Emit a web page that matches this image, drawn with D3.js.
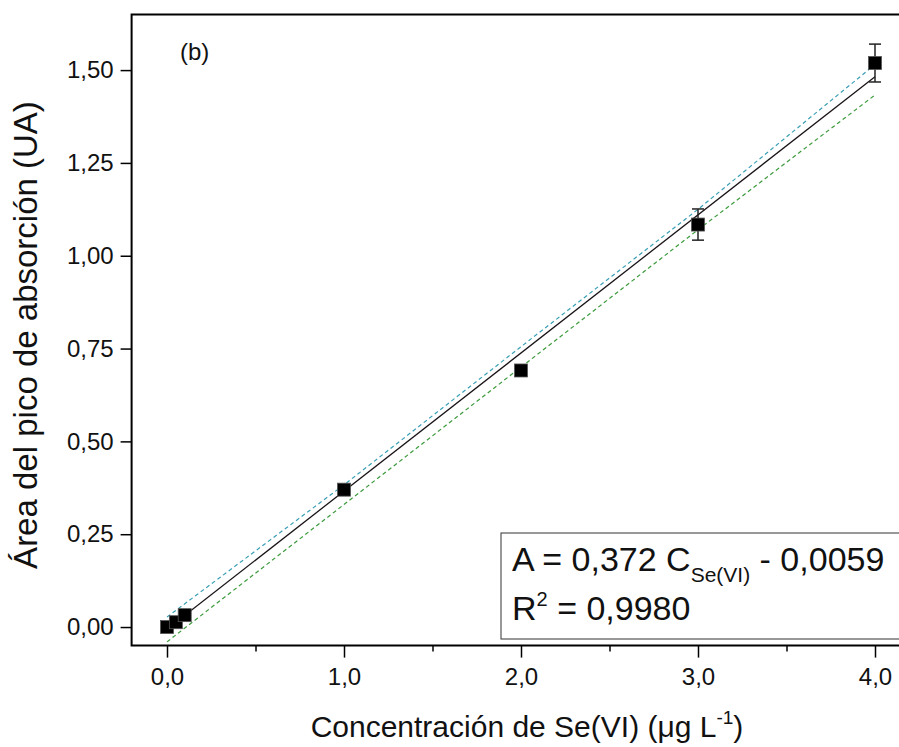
<!DOCTYPE html>
<html>
<head>
<meta charset="utf-8">
<script src="https://cdn.jsdelivr.net/npm/d3@7/dist/d3.min.js"></script>
<style>
  html, body { margin: 0; padding: 0; background: #fff; }
  svg { display: block; font-family: "Liberation Sans", Arial, sans-serif; }
</style>
</head>
<body>
<svg id="chart" width="899" height="747"></svg>
<script>
// ---- Data ----
const concentrations = [0.0, 0.05, 0.1, 1.0, 2.0, 3.0, 4.0];
const absorbance     = [0.0, 0.013, 0.032, 0.370, 0.691, 1.084, 1.519];
const errors         = [0.0, 0.0, 0.0, 0.005, 0.015, 0.042, 0.051];

const fitSlope = 0.372;
const fitIntercept = -0.0059;
const fitRange = [0, 4];

const bandX     = [0, 1, 2, 3, 4];
const bandUpper = [0.027, 0.383, 0.755, 1.125, 1.515];
const bandLower = [-0.040, 0.330, 0.700, 1.070, 1.433];

const xTickValues = [0, 1, 2, 3, 4];
const xTickLabels = ["0,0", "1,0", "2,0", "3,0", "4,0"];
const xMinorTicks = [0.5, 1.5, 2.5, 3.5];
const yTickValues = [0, 0.25, 0.5, 0.75, 1.0, 1.25, 1.5];
const yTickLabels = ["0,00", "0,25", "0,50", "0,75", "1,00", "1,25", "1,50"];

const panelLabel = "(b)";
const xTitle = "Concentración de Se(VI) (μg L";
const yTitle = "Área del pico de absorción (UA)";

// ---- Layout ----
const svg = d3.select("#chart");
const x = d3.scaleLinear().domain([-0.2, 4.2]).range([131.6, 910.4]);
const y = d3.scaleLinear().domain([-0.05, 1.65]).range([645.6, 14.4]);

const plotLeft = x(-0.2), plotRight = x(4.2), plotTop = y(1.65), plotBottom = y(-0.05);

// Confidence bands
const bandLine = (vals) => d3.line().x((d, i) => x(bandX[i])).y(d => y(d))(vals);
svg.append("path").attr("d", bandLine(bandUpper))
  .attr("fill", "none").attr("stroke", "#3a9fb5").attr("stroke-width", 1.2)
  .attr("stroke-dasharray", "4,3");
svg.append("path").attr("d", bandLine(bandLower))
  .attr("fill", "none").attr("stroke", "#3c9a3c").attr("stroke-width", 1.2)
  .attr("stroke-dasharray", "4,3");

// Fit line
svg.append("line")
  .attr("x1", x(fitRange[0])).attr("y1", y(fitSlope * fitRange[0] + fitIntercept))
  .attr("x2", x(fitRange[1])).attr("y2", y(fitSlope * fitRange[1] + fitIntercept))
  .attr("stroke", "#1a1418").attr("stroke-width", 1.3);

// Error bars
const eb = svg.append("g").attr("stroke", "#222").attr("stroke-width", 1.5);
concentrations.forEach((c, i) => {
  if (errors[i] <= 0) return;
  const cx = x(c), y1 = y(absorbance[i] + errors[i]), y2 = y(absorbance[i] - errors[i]);
  eb.append("line").attr("x1", cx).attr("x2", cx).attr("y1", y1).attr("y2", y2);
  eb.append("line").attr("x1", cx - 6).attr("x2", cx + 6).attr("y1", y1).attr("y2", y1);
  eb.append("line").attr("x1", cx - 6).attr("x2", cx + 6).attr("y1", y2).attr("y2", y2);
});

// Points
const sq = 13;
svg.append("g").selectAll("rect").data(concentrations).join("rect")
  .attr("x", d => x(d) - sq / 2)
  .attr("y", (d, i) => y(absorbance[i]) - sq / 2)
  .attr("width", sq).attr("height", sq)
  .attr("fill", "#000").attr("stroke", "#555").attr("stroke-width", 0.8);

// Frame (left, top, bottom) – right side is cropped
const frame = svg.append("g").attr("stroke", "#000").attr("stroke-width", 2).attr("fill", "none");
frame.append("path").attr("d", `M${plotRight},${plotTop} H${plotLeft} V${plotBottom} H${plotRight}`);

// Axes
const xAxis = d3.axisBottom(x).tickValues(xTickValues)
  .tickFormat((d, i) => xTickLabels[i]).tickSize(12).tickPadding(10);
const gx = svg.append("g").attr("transform", `translate(0,${plotBottom})`).call(xAxis);
gx.select(".domain").remove();
gx.selectAll(".tick line").attr("stroke", "#000").attr("stroke-width", 1.5);
gx.selectAll(".tick text").attr("font-size", 24).attr("fill", "#111")
  .attr("font-family", "Liberation Sans, Arial, sans-serif");

const xMinor = d3.axisBottom(x).tickValues(xMinorTicks).tickSize(6).tickFormat("");
const gxm = svg.append("g").attr("transform", `translate(0,${plotBottom})`).call(xMinor);
gxm.select(".domain").remove();
gxm.selectAll(".tick line").attr("stroke", "#000").attr("stroke-width", 1.5);

const yAxis = d3.axisLeft(y).tickValues(yTickValues)
  .tickFormat((d, i) => yTickLabels[i]).tickSize(11).tickPadding(7);
const gy = svg.append("g").attr("transform", `translate(${plotLeft},0)`).call(yAxis);
gy.select(".domain").remove();
gy.selectAll(".tick line").attr("stroke", "#000").attr("stroke-width", 1.5);
gy.selectAll(".tick text").attr("font-size", 24).attr("fill", "#111")
  .attr("font-family", "Liberation Sans, Arial, sans-serif");

// Panel label
svg.append("text").attr("x", 180).attr("y", 60).attr("font-size", 24).attr("fill", "#111")
  .text(panelLabel);

// Axis titles
const xt = svg.append("text").attr("x", 527).attr("y", 737).attr("text-anchor", "middle")
  .attr("font-size", 30).attr("fill", "#111");
xt.append("tspan").text(xTitle);
xt.append("tspan").attr("font-size", 19).attr("dy", -13).text("-1");
xt.append("tspan").attr("dy", 13).text(")");

svg.append("text")
  .attr("transform", `translate(37,${335}) rotate(-90)`)
  .attr("text-anchor", "middle").attr("font-size", 33).attr("fill", "#111")
  .text(yTitle);

// Equation box
svg.append("rect").attr("x", 501).attr("y", 533).attr("width", 410).attr("height", 106)
  .attr("fill", "#fff").attr("stroke", "#333").attr("stroke-width", 1);
const eq = svg.append("text").attr("x", 512).attr("y", 571).attr("font-size", 34).attr("fill", "#111");
eq.append("tspan").text("A = 0,372 C");
eq.append("tspan").attr("font-size", 21).attr("dy", 11).text("Se(VI)");
eq.append("tspan").attr("dy", -11).text(" - 0,0059");
const r2 = svg.append("text").attr("x", 512).attr("y", 620).attr("font-size", 34).attr("fill", "#111");
r2.append("tspan").text("R");
r2.append("tspan").attr("font-size", 20).attr("dy", -14).text("2");
r2.append("tspan").attr("dy", 14).text(" = 0,9980");
</script>
</body>
</html>
